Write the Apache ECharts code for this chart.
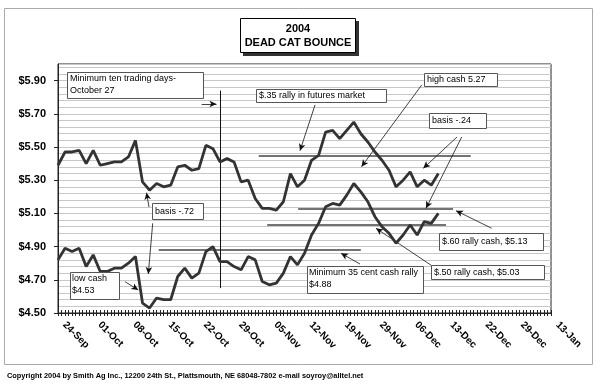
<!DOCTYPE html>
<html><head><meta charset="utf-8">
<script src="https://cdn.jsdelivr.net/npm/echarts@6/dist/echarts.min.js"></script>
<style>html,body{margin:0;padding:0;background:#fff}#c{width:600px;height:385px}</style>
</head><body><div id="c"></div>
<script>
// X tick labels (one every 5 trading days)
const xLabels = ['24-Sep','01-Oct','08-Oct','15-Oct','22-Oct','29-Oct','05-Nov','12-Nov','19-Nov','29-Nov','06-Dec','13-Dec','22-Dec','29-Dec','13-Jan'];
// Futures (upper line), one value per trading day from 24-Sep
const futures = [5.39,5.47,5.47,5.48,5.40,5.48,5.39,5.40,5.41,5.41,
  5.44,5.54,5.29,5.24,5.28,5.26,5.27,5.38,5.39,5.36,
  5.37,5.51,5.49,5.41,5.43,5.41,5.29,5.30,5.19,5.13,
  5.13,5.12,5.17,5.34,5.26,5.30,5.42,5.45,5.59,5.60,
  5.55,5.60,5.65,5.58,5.53,5.47,5.42,5.36,5.26,5.30,
  5.35,5.26,5.30,5.27,5.34];
// Cash (lower line)
const cash = [4.82,4.89,4.87,4.89,4.78,4.85,4.75,4.75,4.77,4.77,
  4.80,4.84,4.56,4.53,4.59,4.58,4.58,4.72,4.77,4.71,
  4.74,4.87,4.90,4.81,4.81,4.78,4.76,4.84,4.82,4.69,
  4.67,4.68,4.74,4.84,4.79,4.86,4.97,5.04,5.14,5.16,
  5.15,5.21,5.28,5.23,5.17,5.08,5.02,4.98,4.92,4.97,
  5.03,4.97,5.05,5.04,5.10];
// Horizontal target levels: [price, from day, to day]
const levels = [[5.45,28.5,58.6],[5.13,34.1,56.1],[5.03,29.7,55.1],[4.88,14.3,43.0]];
// Minimum ten trading days marker (Oct 27 = day 23), [day, low, high]
const oct27 = [23,4.65,5.84];

const FF = '"Liberation Sans", Arial, sans-serif';
const chart = echarts.init(document.getElementById('c'), null, {renderer:'canvas'});

function box(x,y,w,h){return {type:'rect',shape:{x:x,y:y,width:w,height:h},style:{fill:'#fff',stroke:'#555',lineWidth:1},z:20};}
function txt(x,y,t,extra){return Object.assign({type:'text',x:x,y:y,style:{text:t,fill:'#000',font:'9px '+FF,align:'left',verticalAlign:'middle',textAlign:'left',textVerticalAlign:'middle',lineHeight:12}},{z:21},extra||{});}
function arrow(x1,y1,x2,y2){return [{x:x1,y:y1},{x:x2,y:y2}];}

const arrows = [
  arrow(201.7,104,216.5,104),
  arrow(315,105,300,150.7),
  arrow(421.7,85,361.5,166.7),
  arrow(457,137,423.3,168.3),
  arrow(461.7,137,426,208.3),
  arrow(149,207,146.5,192.7),
  arrow(152.7,223.3,148.3,274),
  arrow(125,281.7,138.3,290),
  arrow(360,264,341,253.3),
  arrow(491.7,228.3,456,210.7),
  arrow(433.3,266.7,376,228.3)
];

const option = {
  animation:false,
  backgroundColor:'#fff',
  grid:{left:58,right:49,top:64,bottom:72,show:true,borderColor:'#222',borderWidth:1,backgroundColor:'#fff'},
  xAxis:[{
    type:'value',min:0,max:70,interval:5,position:'bottom',
    axisLine:{show:true,lineStyle:{color:'#222',width:1}},
    axisTick:{show:true,length:3,lineStyle:{color:'#222'}},
    minorTick:{show:true,splitNumber:10,length:3,lineStyle:{color:'#222'}},
    splitLine:{show:false},
    axisLabel:{show:true,rotate:-45,margin:4,padding:[0,0,0,9],color:'#000',fontFamily:FF,fontWeight:'bold',fontSize:10,
      formatter:function(v){const k=Math.round(v/5);return Math.abs(v-k*5)<1e-6 && xLabels[k]?xLabels[k]:'';}}
  },{
    type:'value',min:0,max:70,interval:5,position:'bottom',
    axisLine:{show:false},
    axisTick:{show:true,inside:true,length:3,lineStyle:{color:'#222'}},
    minorTick:{show:true,splitNumber:10,length:3,lineStyle:{color:'#222'}},
    splitLine:{show:false},axisLabel:{show:false}
  }],
  yAxis:[{
    type:'value',min:4.5,max:6.0,interval:0.2,
    axisLine:{show:true,lineStyle:{color:'#222'}},
    axisTick:{show:true,length:4,lineStyle:{color:'#222'}},
    splitLine:{show:false},
    axisLabel:{showMaxLabel:false,margin:12,color:'#000',fontFamily:FF,fontWeight:'bold',fontSize:11,
      formatter:function(v){return '$'+v.toFixed(2);}}
  },{
    type:'value',min:4.5,max:6.0,interval:0.04,position:'left',
    axisLine:{show:false},axisTick:{show:false},axisLabel:{show:false},
    splitLine:{show:true,lineStyle:{color:'#c8c8c8',width:1}}
  }],
  series:[{
    type:'line',xAxisIndex:0,yAxisIndex:0,data:futures.map(function(v,i){return [i,v];}),
    showSymbol:false,symbol:'none',lineStyle:{color:'#333',width:2.8},z:5,
    markLine:{silent:true,symbol:'none',animation:false,label:{show:false},
      lineStyle:{color:'#444',width:1.5,type:'solid'},
      data:levels.map(function(l){return [{coord:[l[1],l[0]]},{coord:[l[2],l[0]]}];}).concat([
        [{coord:[oct27[0],oct27[1]],lineStyle:{color:'#111',width:1}},{coord:[oct27[0],oct27[2]]}]
      ])}
  },{
    type:'line',xAxisIndex:0,yAxisIndex:0,data:cash.map(function(v,i){return [i,v];}),
    showSymbol:false,symbol:'none',lineStyle:{color:'#333',width:2.8},z:5,
    markLine:{silent:true,symbol:['none','arrow'],symbolSize:[5,7],animation:false,label:{show:false},
      lineStyle:{color:'#111',width:0.8,type:'solid'},data:arrows}
  }],
  graphic:[
    {type:'rect',shape:{x:4.5,y:8.5,width:588,height:356},style:{fill:'none',stroke:'#aaa',lineWidth:1},z:-1,silent:true},
    {type:'rect',shape:{x:243,y:21,width:116,height:35},style:{fill:'#333'},z:20},
    {type:'rect',shape:{x:240.5,y:18.5,width:115,height:34},style:{fill:'#fff',stroke:'#000',lineWidth:1},z:21},
    {type:'text',x:298,y:29,z:22,style:{text:'2004',fill:'#000',font:'bold 11px '+FF,align:'center',verticalAlign:'middle',textAlign:'center',textVerticalAlign:'middle'}},
    {type:'text',x:298,y:43,z:22,style:{text:'DEAD CAT BOUNCE',fill:'#000',font:'bold 11px '+FF,align:'center',verticalAlign:'middle',textAlign:'center',textVerticalAlign:'middle'}},
    box(67.5,72.5,136,26), txt(70,84.5,'Minimum ten trading days-\nOctober 27'),
    box(256.5,89.5,130,13), txt(259,96,'$.35 rally in futures market'),
    box(424.5,73.5,73,13), txt(427,80,'high cash 5.27'),
    box(429.5,113.5,57,15), txt(432,121,'basis -.24'),
    box(152.5,203.5,51,16), txt(155,211.5,'basis -.72'),
    box(70.5,272.5,49,27), txt(72,285,'low cash\n$4.53'),
    box(307.5,266.5,116,27), txt(309,279,'Minimum 35 cent cash rally\n$4.88'),
    box(439.5,233.5,104,17), txt(442,242,'$.60 rally cash, $5.13'),
    box(431.5,265.5,113,14), txt(434,272.5,'$.50 rally cash, $5.03'),
    {type:'text',x:7,y:376,z:22,style:{text:'Copyright 2004 by Smith Ag Inc., 12200 24th St., Plattsmouth, NE 68048-7802 e-mail soyroy@alltel.net',fill:'#000',font:'bold 7.4px '+FF,align:'left',verticalAlign:'middle',textAlign:'left',textVerticalAlign:'middle'}}
  ]
};
chart.setOption(option);
</script>
</body></html>
